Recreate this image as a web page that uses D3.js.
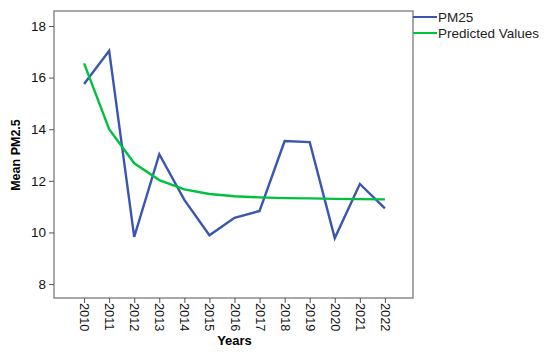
<!DOCTYPE html>
<html>
<head>
<meta charset="utf-8">
<script src="https://cdn.jsdelivr.net/npm/d3@7"></script>
<style>
  body { margin: 0; background: #fff; }
  text { font-family: "Liberation Sans", Arial, sans-serif; }
</style>
</head>
<body>
<div id="chart"></div>
<script>
// data
var years = [2010, 2011, 2012, 2013, 2014, 2015, 2016, 2017, 2018, 2019, 2020, 2021, 2022];
var pm25 = [15.75, 17.04, 9.83, 13.03, 11.26, 9.89, 10.57, 10.83, 13.54, 13.50, 9.78, 11.88, 10.93];
var predicted = [16.55, 14.0, 12.68, 12.03, 11.67, 11.49, 11.40, 11.36, 11.33, 11.32, 11.30, 11.29, 11.28];
var yTicks = [8, 10, 12, 14, 16, 18];
var seriesNames = ["PM25", "Predicted Values"];
var seriesColors = ["#3a56b0", "#00c040"];

var svgWidth = 550, svgHeight = 352;
var margin = { top: 11, right: 137, bottom: 54, left: 54 };
var chartWidth = svgWidth - margin.left - margin.right;
var chartHeight = svgHeight - margin.top - margin.bottom;

var svg = d3.select("#chart").append("svg")
  .attr("width", svgWidth)
  .attr("height", svgHeight);

var chartGroup = svg.append("g")
  .attr("transform", `translate(${margin.left}, ${margin.top})`);

var xScale = d3.scaleLinear().domain([2008.8, 2023.12]).range([0, chartWidth]);
var yScale = d3.scaleLinear().domain([7.46, 18.58]).range([chartHeight, 0]);

// frame
chartGroup.append("rect")
  .attr("width", chartWidth).attr("height", chartHeight)
  .attr("fill", "none").attr("stroke", "#7a7a7a").attr("stroke-width", 1.3);

// y axis
var yAxis = d3.axisLeft(yScale).tickValues(yTicks).tickSize(5).tickPadding(3);
var yg = chartGroup.append("g").call(yAxis);
yg.select(".domain").remove();
yg.selectAll(".tick line").attr("stroke", "#555");
yg.selectAll("text").attr("font-size", 13.5).attr("fill", "#111");

// x axis
var xAxis = d3.axisBottom(xScale).tickValues(years).tickFormat(d3.format("d")).tickSize(5);
var xg = chartGroup.append("g").attr("transform", `translate(0, ${chartHeight})`).call(xAxis);
xg.select(".domain").remove();
xg.selectAll(".tick line").attr("stroke", "#555");
xg.selectAll("text")
  .attr("font-size", 12.8).attr("fill", "#111")
  .attr("transform", "rotate(90)")
  .attr("x", 5).attr("y", 0).attr("dy", "0.35em")
  .style("text-anchor", "start");

// axis titles
svg.append("text")
  .attr("x", margin.left + xScale(2016)).attr("y", 345)
  .attr("text-anchor", "middle").attr("font-weight", "bold").attr("font-size", 13)
  .text("Years");

svg.append("text")
  .attr("transform", `translate(20, ${margin.top + yScale(13)}) rotate(-90)`)
  .attr("text-anchor", "middle").attr("font-weight", "bold").attr("font-size", 12.5)
  .text("Mean PM2.5");

// lines
var line = d3.line().x(d => xScale(d[0])).y(d => yScale(d[1]));
[pm25, predicted].forEach(function(vals, i) {
  chartGroup.append("path")
    .datum(years.map((y, j) => [y, vals[j]]))
    .attr("fill", "none")
    .attr("stroke", seriesColors[i])
    .attr("stroke-width", 2.4)
    .attr("stroke-linejoin", "miter")
    .attr("d", line);
});

// legend
var legend = svg.append("g").attr("transform", `translate(${margin.left + chartWidth}, 0)`);
seriesNames.forEach(function(name, i) {
  var yy = 17 + i * 16;
  legend.append("line").attr("x1", 0).attr("x2", 24).attr("y1", yy).attr("y2", yy)
    .attr("stroke", seriesColors[i]).attr("stroke-width", 2);
  legend.append("text").attr("x", 25).attr("y", yy).attr("dy", "0.35em")
    .attr("font-size", 13.5).attr("fill", "#222").text(name);
});
</script>
</body>
</html>
